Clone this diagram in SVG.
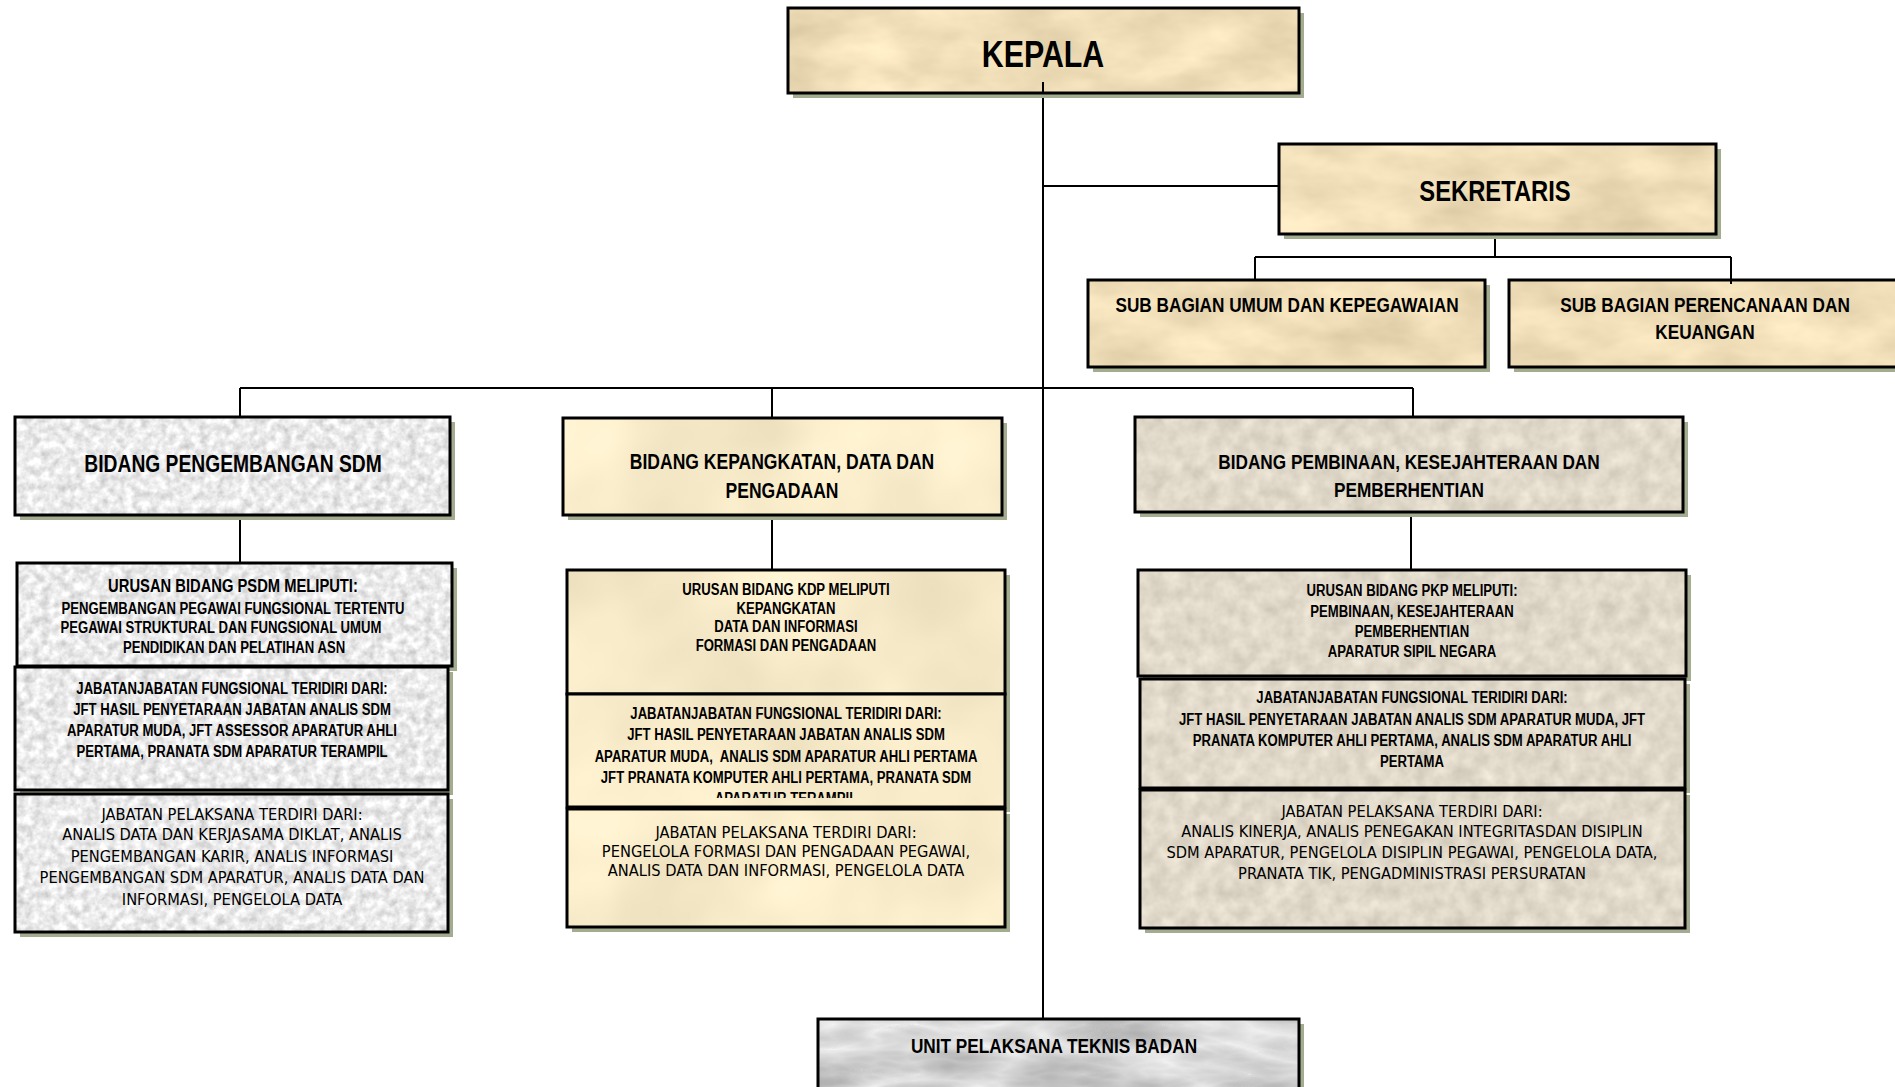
<svg xmlns="http://www.w3.org/2000/svg" width="1895" height="1087" viewBox="0 0 1895 1087">
<style>
.sh{fill:#a4ac90}
.bd{fill:none;stroke:#000;stroke-width:3}
.parch{filter:url(#tParch)}
.gran{filter:url(#tGran)}
.cream{filter:url(#tCream)}
.stone{filter:url(#tStone)}
.marb{filter:url(#tMarb)}
.b{font-family:"Liberation Sans",Arial,sans-serif;font-weight:bold;text-anchor:middle;fill:#000}
.r{font-family:"DejaVu Sans Condensed","DejaVu Sans",sans-serif;font-stretch:condensed;text-anchor:middle;fill:#000}
.s16{font-size:16px}
.s21{font-size:21px}
.s215{font-size:21.4px}
.r16{font-size:16.3px}
#connectors line{stroke:#000;stroke-width:2}
</style>
<defs>
<filter id="tParch" x="0" y="0" width="1" height="1" color-interpolation-filters="sRGB">
<feTurbulence type="fractalNoise" baseFrequency="0.012 0.025" numOctaves="4" seed="7"/>
<feColorMatrix type="matrix" values="0.2 0 0 0 0.84 0.2 0 0 0 0.77 0.2 0 0 0 0.62 0 0 0 0 1"/>
<feComposite in2="SourceAlpha" operator="in"/>
</filter>
<filter id="tGran" x="0" y="0" width="1" height="1" color-interpolation-filters="sRGB">
<feTurbulence type="fractalNoise" baseFrequency="0.12" numOctaves="3" seed="2"/>
<feColorMatrix type="matrix" values="0.35 0 0 0 0.745 0.35 0 0 0 0.745 0.35 0 0 0 0.745 0 0 0 0 1"/>
<feComposite in2="SourceAlpha" operator="in"/>
</filter>
<filter id="tCream" x="0" y="0" width="1" height="1" color-interpolation-filters="sRGB">
<feTurbulence type="fractalNoise" baseFrequency="0.008" numOctaves="3" seed="4"/>
<feColorMatrix type="matrix" values="0.14 0 0 0 0.90 0.14 0 0 0 0.85 0.14 0 0 0 0.72 0 0 0 0 1"/>
<feComposite in2="SourceAlpha" operator="in"/>
</filter>
<filter id="tStone" x="0" y="0" width="1" height="1" color-interpolation-filters="sRGB">
<feTurbulence type="fractalNoise" baseFrequency="0.06" numOctaves="3" seed="9"/>
<feColorMatrix type="matrix" values="0.18 0 0 0 0.79 0.18 0 0 0 0.76 0.18 0 0 0 0.70 0 0 0 0 1"/>
<feComposite in2="SourceAlpha" operator="in"/>
</filter>
<filter id="tMarb" x="0" y="0" width="1" height="1" color-interpolation-filters="sRGB">
<feTurbulence type="turbulence" baseFrequency="0.006 0.02" numOctaves="4" seed="3"/>
<feColorMatrix type="matrix" values="-0.4 0 0 0 0.95 -0.4 0 0 0 0.95 -0.4 0 0 0 0.95 0 0 0 0 1"/>
<feComposite in2="SourceAlpha" operator="in"/>
</filter>
<clipPath id="clipKdpJab"><rect x="567" y="694" width="438" height="104"/></clipPath>
</defs>

<g id="connectors">
<line x1="1043" y1="82" x2="1043" y2="1019"/>
<line x1="1043" y1="186" x2="1279" y2="186"/>
<line x1="1495" y1="234" x2="1495" y2="258"/>
<line x1="1255" y1="257" x2="1731" y2="257"/>
<line x1="1255" y1="257" x2="1255" y2="280"/>
<line x1="1731" y1="257" x2="1731" y2="284"/>
<line x1="240" y1="388" x2="1413" y2="388"/>
<line x1="240" y1="388" x2="240" y2="417"/>
<line x1="772" y1="388" x2="772" y2="418"/>
<line x1="1413" y1="388" x2="1413" y2="417"/>
<line x1="240" y1="515" x2="240" y2="563"/>
<line x1="772" y1="515" x2="772" y2="570"/>
<line x1="1411" y1="512" x2="1411" y2="570"/>
</g>

<g id="kepala">
<rect class="sh" x="793" y="13" width="511" height="85"/>
<rect class="parch" x="788" y="8" width="511" height="85"/>
<line x1="1043" y1="82" x2="1043" y2="93" stroke="#000" stroke-width="2"/>
<rect class="bd" x="788" y="8" width="511" height="85"/>
<text class="b" transform="matrix(.82 0 0 1 1043 0)" x="0" y="67" font-size="37">KEPALA</text>
</g>

<g id="sekretaris">
<rect class="sh" x="1284" y="149" width="437" height="90"/>
<rect class="parch" x="1279" y="144" width="437" height="90"/>
<rect class="bd" x="1279" y="144" width="437" height="90"/>
<text class="b" transform="matrix(.82 0 0 1 1495 0)" x="0" y="201" font-size="29">SEKRETARIS</text>
</g>

<g id="sub-umum">
<rect class="sh" x="1093" y="285" width="397" height="87"/>
<rect class="parch" x="1088" y="280" width="397" height="87"/>
<rect class="bd" x="1088" y="280" width="397" height="87"/>
<text class="b s21" transform="matrix(.82 0 0 1 1287 0)" x="0" y="312">SUB BAGIAN UMUM DAN KEPEGAWAIAN</text>
</g>

<g id="sub-perencanaan">
<rect class="sh" x="1514" y="285" width="400" height="87"/>
<rect class="parch" x="1509" y="280" width="400" height="87"/>
<rect class="bd" x="1509" y="280" width="400" height="87"/>
<line x1="1731" y1="280" x2="1731" y2="284" stroke="#000" stroke-width="2"/>
<text class="b s21" transform="matrix(.82 0 0 1 1705 0)" x="0" y="312">SUB BAGIAN PERENCANAAN DAN</text>
<text class="b s21" transform="matrix(.82 0 0 1 1705 0)" x="0" y="339">KEUANGAN</text>
</g>

<g id="bidang-psdm">
<rect class="sh" x="20" y="422" width="435" height="98"/>
<rect class="gran" x="15" y="417" width="435" height="98"/>
<rect class="bd" x="15" y="417" width="435" height="98"/>
<text class="b" transform="matrix(.82 0 0 1 233 0)" x="0" y="472" font-size="23.5">BIDANG PENGEMBANGAN SDM</text>
</g>

<g id="urusan-psdm">
<rect class="sh" x="22" y="568" width="435" height="103"/>
<rect class="gran" x="17" y="563" width="435" height="103"/>
<rect class="bd" x="17" y="563" width="435" height="103"/>
<text class="b" transform="matrix(.82 0 0 1 233 0)" x="0" y="592" font-size="18">URUSAN BIDANG PSDM MELIPUTI:</text>
<text class="b s16" transform="matrix(.82 0 0 1 233 0)" x="0" y="614">PENGEMBANGAN PEGAWAI FUNGSIONAL TERTENTU</text>
<text class="b s16" transform="matrix(.82 0 0 1 221 0)" x="0" y="633">PEGAWAI STRUKTURAL DAN FUNGSIONAL UMUM</text>
<text class="b s16" transform="matrix(.82 0 0 1 234 0)" x="0" y="653">PENDIDIKAN DAN PELATIHAN ASN</text>
</g>

<g id="jabfung-psdm">
<rect class="sh" x="20" y="672" width="433" height="123"/>
<rect class="gran" x="15" y="667" width="433" height="123"/>
<rect class="bd" x="15" y="667" width="433" height="123"/>
<text class="b s16" transform="matrix(.82 0 0 1 232 0)" x="0" y="694">JABATANJABATAN FUNGSIONAL TERIDIRI DARI:</text>
<text class="b s16" transform="matrix(.82 0 0 1 232 0)" x="0" y="715">JFT HASIL PENYETARAAN JABATAN ANALIS SDM</text>
<text class="b s16" transform="matrix(.82 0 0 1 232 0)" x="0" y="736">APARATUR MUDA, JFT ASSESSOR APARATUR AHLI</text>
<text class="b s16" transform="matrix(.82 0 0 1 232 0)" x="0" y="757">PERTAMA, PRANATA SDM APARATUR TERAMPIL</text>
</g>

<g id="pelaksana-psdm">
<rect class="sh" x="20" y="799" width="433" height="138"/>
<rect class="gran" x="15" y="794" width="433" height="138"/>
<rect class="bd" x="15" y="794" width="433" height="138"/>
<text class="r r16" x="232" y="820">JABATAN PELAKSANA TERDIRI DARI:</text>
<text class="r r16" x="232" y="840">ANALIS DATA DAN KERJASAMA DIKLAT, ANALIS</text>
<text class="r r16" x="232" y="862">PENGEMBANGAN KARIR, ANALIS INFORMASI</text>
<text class="r r16" x="232" y="883">PENGEMBANGAN SDM APARATUR, ANALIS DATA DAN</text>
<text class="r r16" x="232" y="905">INFORMASI, PENGELOLA DATA</text>
</g>

<g id="bidang-kdp">
<rect class="sh" x="568" y="423" width="439" height="97"/>
<rect class="cream" x="563" y="418" width="439" height="97"/>
<rect class="bd" x="563" y="418" width="439" height="97"/>
<text class="b s215" transform="matrix(.82 0 0 1 782 0)" x="0" y="469">BIDANG KEPANGKATAN, DATA DAN</text>
<text class="b s215" transform="matrix(.82 0 0 1 782 0)" x="0" y="498">PENGADAAN</text>
</g>

<g id="urusan-kdp">
<rect class="sh" x="572" y="575" width="438" height="124"/>
<rect class="cream" x="567" y="570" width="438" height="124"/>
<rect class="bd" x="567" y="570" width="438" height="124"/>
<text class="b s16" transform="matrix(.82 0 0 1 786 0)" x="0" y="595">URUSAN BIDANG KDP MELIPUTI</text>
<text class="b s16" transform="matrix(.82 0 0 1 786 0)" x="0" y="614">KEPANGKATAN</text>
<text class="b s16" transform="matrix(.82 0 0 1 786 0)" x="0" y="632">DATA DAN INFORMASI</text>
<text class="b s16" transform="matrix(.82 0 0 1 786 0)" x="0" y="651">FORMASI DAN PENGADAAN</text>
</g>

<g id="jabfung-kdp">
<rect class="sh" x="572" y="699" width="438" height="113"/>
<rect class="cream" x="567" y="694" width="438" height="113"/>
<g clip-path="url(#clipKdpJab)">
<text class="b s16" transform="matrix(.82 0 0 1 786 0)" x="0" y="719">JABATANJABATAN FUNGSIONAL TERIDIRI DARI:</text>
<text class="b s16" transform="matrix(.82 0 0 1 786 0)" x="0" y="740">JFT HASIL PENYETARAAN JABATAN ANALIS SDM</text>
<text class="b s16" transform="matrix(.82 0 0 1 786 0)" x="0" y="762" xml:space="preserve">APARATUR MUDA,  ANALIS SDM APARATUR AHLI PERTAMA</text>
<text class="b s16" transform="matrix(.82 0 0 1 786 0)" x="0" y="783">JFT PRANATA KOMPUTER AHLI PERTAMA, PRANATA SDM</text>
<text class="b s16" transform="matrix(.82 0 0 1 786 0)" x="0" y="804">APARATUR TERAMPIL</text>
</g>
<rect class="bd" x="567" y="694" width="438" height="113"/>
</g>

<g id="pelaksana-kdp">
<rect class="sh" x="572" y="814" width="438" height="118"/>
<rect class="cream" x="567" y="809" width="438" height="118"/>
<rect class="bd" x="567" y="809" width="438" height="118"/>
<text class="r r16" x="786" y="838">JABATAN PELAKSANA TERDIRI DARI:</text>
<text class="r r16" x="786" y="857">PENGELOLA FORMASI DAN PENGADAAN PEGAWAI,</text>
<text class="r r16" x="786" y="876">ANALIS DATA DAN INFORMASI, PENGELOLA DATA</text>
</g>

<g id="bidang-pkp">
<rect class="sh" x="1140" y="422" width="548" height="95"/>
<rect class="stone" x="1135" y="417" width="548" height="95"/>
<rect class="bd" x="1135" y="417" width="548" height="95"/>
<text class="b s21" transform="matrix(.82 0 0 1 1409 0)" x="0" y="469">BIDANG PEMBINAAN, KESEJAHTERAAN DAN</text>
<text class="b s21" transform="matrix(.82 0 0 1 1409 0)" x="0" y="497">PEMBERHENTIAN</text>
</g>

<g id="urusan-pkp">
<rect class="sh" x="1143" y="575" width="548" height="106"/>
<rect class="stone" x="1138" y="570" width="548" height="106"/>
<rect class="bd" x="1138" y="570" width="548" height="106"/>
<text class="b s16" transform="matrix(.82 0 0 1 1412 0)" x="0" y="596">URUSAN BIDANG PKP MELIPUTI:</text>
<text class="b s16" transform="matrix(.82 0 0 1 1412 0)" x="0" y="617">PEMBINAAN, KESEJAHTERAAN</text>
<text class="b s16" transform="matrix(.82 0 0 1 1412 0)" x="0" y="637">PEMBERHENTIAN</text>
<text class="b s16" transform="matrix(.82 0 0 1 1412 0)" x="0" y="657">APARATUR SIPIL NEGARA</text>
</g>

<g id="jabfung-pkp">
<rect class="sh" x="1145" y="684" width="545" height="109"/>
<rect class="stone" x="1140" y="679" width="545" height="109"/>
<rect class="bd" x="1140" y="679" width="545" height="109"/>
<text class="b s16" transform="matrix(.82 0 0 1 1412 0)" x="0" y="703">JABATANJABATAN FUNGSIONAL TERIDIRI DARI:</text>
<text class="b s16" transform="matrix(.82 0 0 1 1412 0)" x="0" y="725">JFT HASIL PENYETARAAN JABATAN ANALIS SDM APARATUR MUDA, JFT</text>
<text class="b s16" transform="matrix(.82 0 0 1 1412 0)" x="0" y="746">PRANATA KOMPUTER AHLI PERTAMA, ANALIS SDM APARATUR AHLI</text>
<text class="b s16" transform="matrix(.82 0 0 1 1412 0)" x="0" y="767">PERTAMA</text>
</g>

<g id="pelaksana-pkp">
<rect class="sh" x="1145" y="795" width="545" height="138"/>
<rect class="stone" x="1140" y="790" width="545" height="138"/>
<rect class="bd" x="1140" y="790" width="545" height="138"/>
<text class="r r16" x="1412" y="817">JABATAN PELAKSANA TERDIRI DARI:</text>
<text class="r r16" x="1412" y="837">ANALIS KINERJA, ANALIS PENEGAKAN INTEGRITASDAN DISIPLIN</text>
<text class="r r16" x="1412" y="858">SDM APARATUR, PENGELOLA DISIPLIN PEGAWAI, PENGELOLA DATA,</text>
<text class="r r16" x="1412" y="879">PRANATA TIK, PENGADMINISTRASI PERSURATAN</text>
</g>

<g id="upt">
<rect class="sh" x="823" y="1024" width="481" height="80"/>
<rect class="marb" x="818" y="1019" width="481" height="80"/>
<rect class="bd" x="818" y="1019" width="481" height="80"/>
<text class="b s21" transform="matrix(.82 0 0 1 1054 0)" x="0" y="1053">UNIT PELAKSANA TEKNIS BADAN</text>
</g>
</svg>
